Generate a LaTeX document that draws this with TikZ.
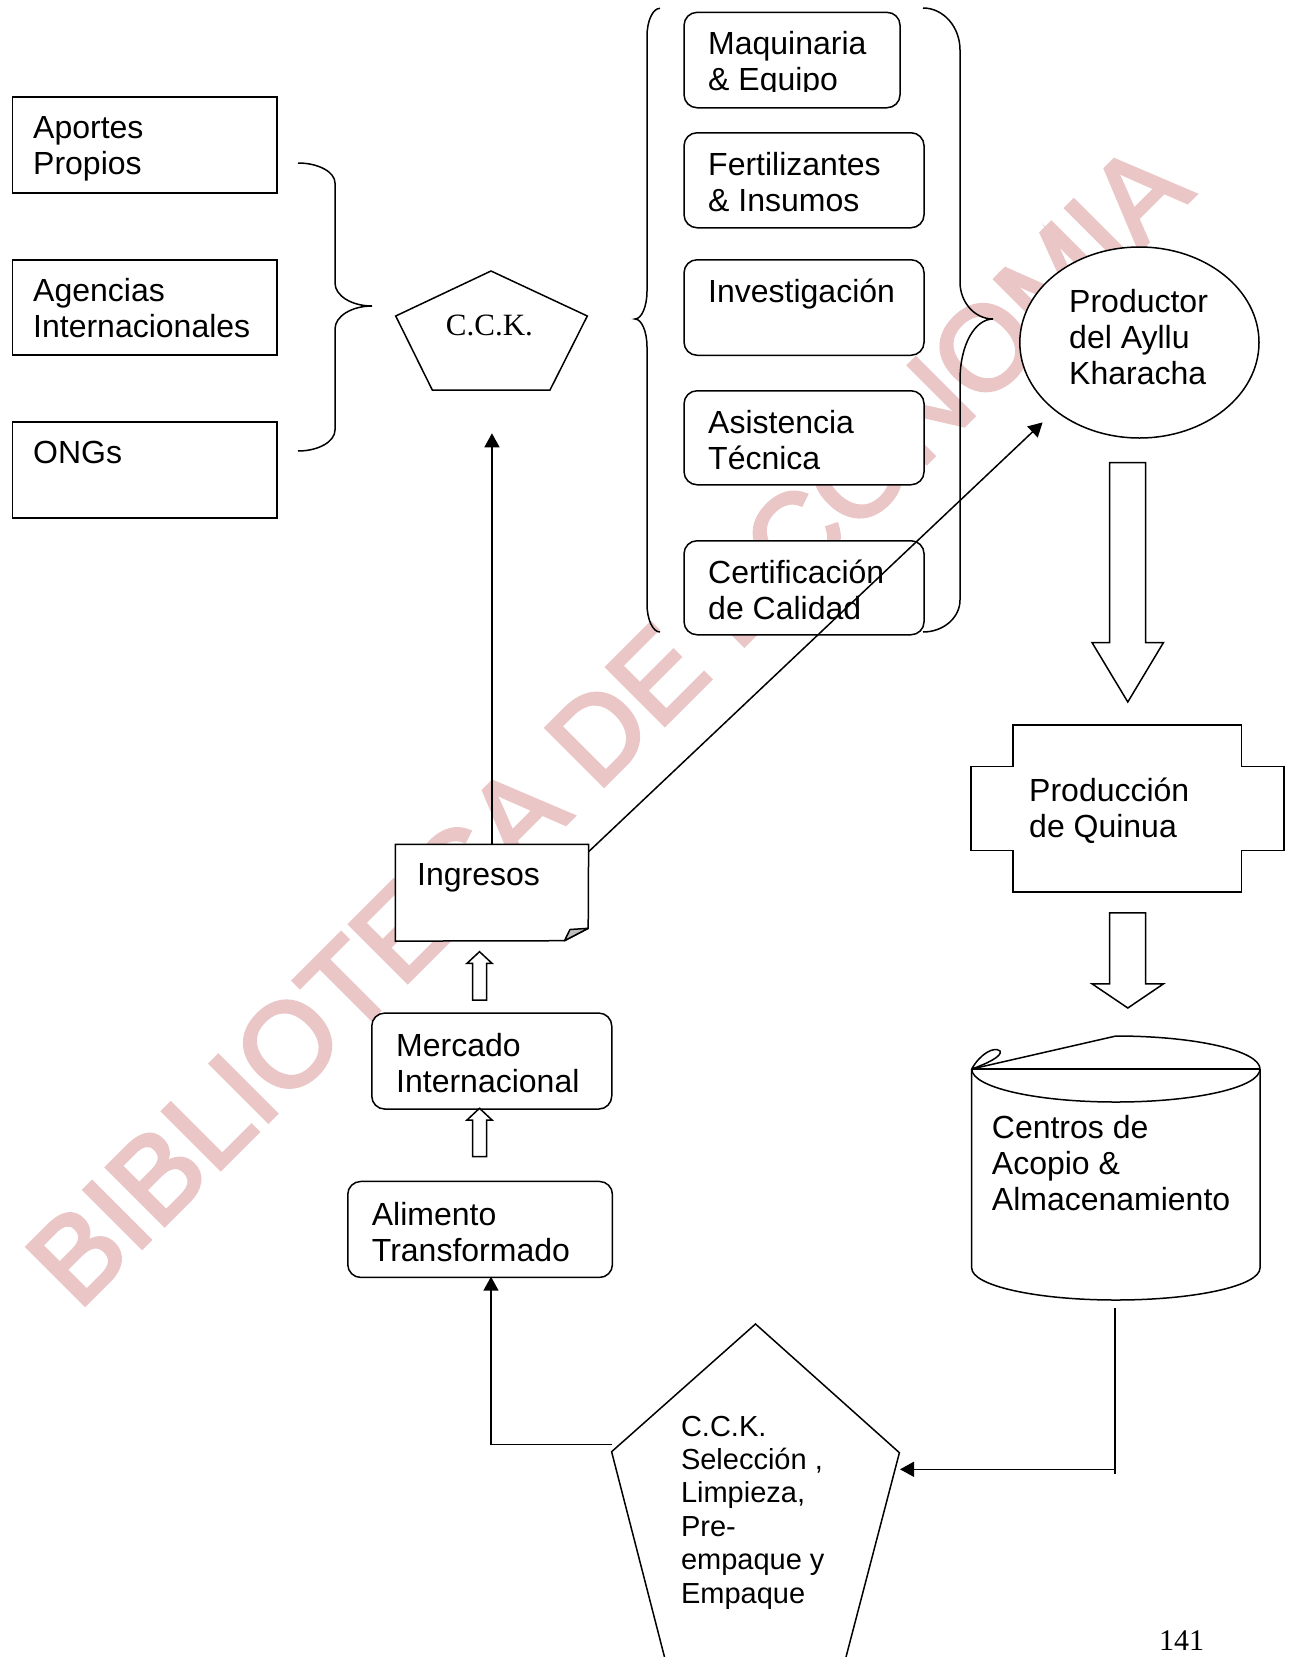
\documentclass[tikz,border=0pt]{standalone}
\usepackage{fontspec}
\setmainfont{Liberation Sans}
\newfontfamily\serifa{Liberation Serif}
\newfontfamily\wmfont{Liberation Sans}[FakeBold=3]
\usetikzlibrary{arrows.meta,calc,shapes.geometric}
\definecolor{wm}{RGB}{234,198,198}
\begin{document}
\begin{tikzpicture}[x=1pt,y=-1pt,
  every node/.style={inner sep=0pt},
  lw/.style={line width=1.5pt},
  sqbox/.style={draw, lw, fill=white, anchor=north west},
  rbox/.style={sqbox, rounded corners=13pt},
  txt/.style={anchor=base west, align=left, font=\fontsize{32}{36}\selectfont},
  ptxt/.style={anchor=base west, align=left, font=\fontsize{29}{33.4}\selectfont},
  arr/.style={lw, -{Triangle[length=14pt,width=15pt]}},
  hol/.style={draw, lw, fill=white, line join=miter}]
\useasboundingbox (0,0) rectangle (1295,1657);
\fill[white] (0,0) rectangle (1295,1657);

% watermark
\node[rotate=45, text=wm, font=\wmfont\fontsize{119}{119}\selectfont] (wmark) at (608,724) {BIBLIOTECA DE ECONOMIA};

% left boxes (text anchors at last baseline)
\node[sqbox, minimum width=264.4pt, minimum height=96pt] (apo) at (11.6,96) {};
\node[txt] (apoT) at (33,174) {Aportes\\Propios};
\node[sqbox, minimum width=264.4pt, minimum height=95pt] (age) at (11.6,259) {};
\node[txt] (ageT) at (33,337) {Agencias\\Internacionales};
\node[sqbox, minimum width=264.4pt, minimum height=96pt] (ong) at (11.6,421) {};
\node[txt] (ongT) at (33,463) {ONGs};

% brace left
\draw[lw] (298,163) .. controls (318.4,163) and (335,172) .. (335,183) -- (335,283)
  .. controls (335,295.7) and (351.6,306) .. (372,306)
  .. controls (351.6,306) and (335,316.3) .. (335,329) -- (335,430)
  .. controls (335,441.6) and (318.4,451) .. (298,451);

% C.C.K. pentagon
\draw[lw, fill=white] (491,271) -- (587.3,316) -- (550,390) -- (432.3,390) -- (395.7,316) -- cycle;
\node[anchor=base west, font=\serifa\fontsize{31}{31}\selectfont] (cck) at (445.7,335) {C.C.K.};
\coordinate (cckB) at (491,390);

% tall braces
\draw[lw] (660,8.3) .. controls (652.8,8.3) and (647,20.8) .. (647,36.3) -- (647,291)
  .. controls (647,306.5) and (641.6,319) .. (635,319)
  .. controls (641.6,319) and (647,331.5) .. (647,347) -- (647,604)
  .. controls (647,619.5) and (652.8,632) .. (660,632);
\draw[lw] (923,8) .. controls (943.4,8) and (960,26.8) .. (960,50) -- (960,282)
  .. controls (960,302.4) and (974.8,319) .. (993,319)
  .. controls (974.8,319) and (960,345) .. (960,380) -- (960,600)
  .. controls (960,617.7) and (943.4,632) .. (923,632);

% middle boxes
\node[rbox, minimum width=216pt, minimum height=95.4pt] (maq) at (683.3,11.6) {};
\begin{scope}
\clip (683,11.6) rectangle (923,91);
\node[txt] (maqT) at (708,90.7) {Maquinaria\\\& Equipo};
\end{scope}
\node[rbox, minimum width=240pt, minimum height=95pt] (fer) at (683.3,132) {};
\node[txt] (ferT) at (708,211) {Fertilizantes\\\& Insumos};
\node[rbox, minimum width=240pt, minimum height=95.5pt] (inv) at (683.3,259) {};
\node[txt] (invT) at (708,302.5) {Investigación};
\node[rbox, minimum width=240pt, minimum height=94pt] (asi) at (683.3,390) {};
\node[txt] (asiT) at (708,469.5) {Asistencia\\Técnica};
\node[rbox, minimum width=240pt, minimum height=94pt] (cer) at (683.3,540) {};
\node[txt] (cerT) at (708,619.5) {Certificación\\de Calidad};

% Productor
\node[draw, lw, fill=white, ellipse, minimum width=239.2pt, minimum height=191pt] (prod) at (1139.4,342.5) {};
\node[txt] (prodT) at (1069,384) {Productor\\del Ayllu\\Kharacha};
\coordinate (prodArr) at (1042.6,422.4);

% big hollow arrow
\draw[hol] (1109.5,462.6) -- (1145.5,462.6) -- (1145.5,642.5) -- (1163.5,642.5) -- (1127.8,702)
  -- (1092,642.5) -- (1109.5,642.5) -- cycle;

% Produccion
\draw[lw, fill=white] (1013,725) -- (1241.7,725) -- (1241.7,766.5) -- (1284,766.5) -- (1284,850.6)
  -- (1241.7,850.6) -- (1241.7,892) -- (1013,892) -- (1013,850.6) -- (971,850.6)
  -- (971,766.5) -- (1013,766.5) -- cycle;
\node[txt] (quin) at (1029,837) {Producción\\de Quinua};

% second hollow arrow
\draw[hol] (1109.5,912.8) -- (1145.5,912.8) -- (1145.5,983.8) -- (1163.5,983.8) -- (1127.8,1008)
  -- (1092,983.8) -- (1109.5,983.8) -- cycle;

% cylinder
\fill[white] (971.7,1069) -- (1115.9,1036) .. controls (1195.5,1036) and (1260,1050.8) .. (1260,1069)
  -- (1260,1268) .. controls (1260,1285.7) and (1195.5,1300) .. (1115.9,1300)
  .. controls (1036.3,1300) and (971.7,1285.7) .. (971.7,1268) -- cycle;
\draw[lw, line join=round] (971.7,1069) -- (1115.9,1036) .. controls (1195.5,1036) and (1260,1050.8) .. (1260,1069);
\draw[lw] (971.7,1069) -- (1260,1069);
\draw[lw] (971.7,1069) .. controls (971.7,1087.4) and (1036.3,1102) .. (1115.9,1102)
  .. controls (1195.5,1102) and (1260,1087.4) .. (1260,1069);
\draw[lw] (971.7,1069) -- (971.7,1268) .. controls (971.7,1285.7) and (1036.3,1300) .. (1115.9,1300)
  .. controls (1195.5,1300) and (1260,1285.7) .. (1260,1268) -- (1260,1069);
\draw[lw] (971.7,1069) .. controls (980,1054) and (994,1046) .. (1000,1051)
  .. controls (1003,1056) and (986,1064) .. (971.7,1069);
\node[txt] (cen) at (991.7,1210) {Centros de\\Acopio \&\\Almacenamiento};
\coordinate (cylB) at (1115,1308);
\coordinate (cylE) at (1115,1474);
\coordinate (turn) at (1115,1469.3);

% bottom pentagon
\draw[lw, fill=white] (664.5,1657) -- (611.6,1451.7) -- (755.5,1324) -- (899.4,1452.7) -- (846,1657);
\node[ptxt] (sel) at (680.8,1603) {C.C.K.\\Selección ,\\Limpieza,\\Pre-\\empaque y\\Empaque};
\coordinate (pentR) at (900,1469.3);
\coordinate (pentL) at (611.7,1444.3);

% left column
\node[rbox, minimum width=264.7pt, minimum height=96pt] (ali) at (347,1180.7) {};
\node[txt] (aliT) at (371.7,1261) {Alimento\\Transformado};
\coordinate (aliB) at (491,1276.7);
\node[rbox, minimum width=240pt, minimum height=96pt] (mer) at (371,1012.3) {};
\node[txt] (merT) at (396,1092.7) {Mercado\\Internacional};

% Ingresos
\node[anchor=north west, minimum width=192.9pt, minimum height=96.4pt] (ing) at (395.3,844.3) {};
\draw[lw, fill=white, line join=miter] (ing.north west) -- (ing.north east) -- (588.2,928.3) -- (564.5,940.7) -- (ing.south west) -- cycle;
\filldraw[lw, fill=black!25, line join=round] (564.5,940.7) -- (570,929.5) -- (588.2,928.3) -- cycle;
\node[txt] (ingT) at (417,885) {Ingresos};

% small hollow arrows
\draw[hol] (472.5,1000) -- (472.5,963.3) -- (467,963.3) -- (479.5,951.7) -- (492,963.3) -- (486.5,963.3) -- (486.5,1000) -- cycle;
\draw[hol] (472.5,1156.7) -- (472.5,1120) -- (467,1120) -- (479.5,1108.3) -- (492,1120) -- (486.5,1120) -- (486.5,1156.7) -- cycle;

% connectors
\draw[arr, shorten >=43.3pt] (ing.north) -- (ing.north |- cckB);
\draw[arr] ($(ing.north east)+(0,7.4)$) -- (prodArr);
\draw[lw] (cylB) -- (cylE);
\draw[arr] (turn) -- (pentR);
\draw[arr] (pentL) -- (aliB |- pentL) -- (aliB);

% page number
\node[anchor=base west, font=\serifa\fontsize{30}{30}\selectfont] (pg) at (1158.8,1650) {141};
\end{tikzpicture}
\end{document}
